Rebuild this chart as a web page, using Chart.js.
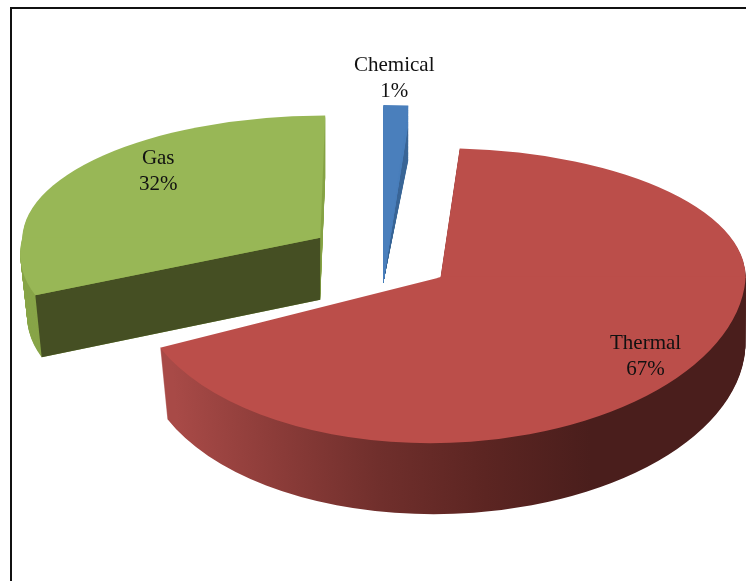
<!DOCTYPE html>
<html>
<head>
<meta charset="utf-8">
<style>
  html, body { margin: 0; background: #fff; overflow: hidden; }
  #frame { position: absolute; left: 10px; top: 7px; width: 800px; height: 700px; border: 2px solid #111; }
  #pie { position: absolute; left: 0; top: 0; filter: blur(0.6px); }
</style>
<script src="https://cdn.jsdelivr.net/npm/chart.js@4"></script>
</head>
<body>
<div id="frame"></div>
<canvas id="pie" width="746" height="581"></canvas>
<script>
// chart data
const categories = ['Chemical', 'Thermal', 'Gas'];
const shares = [1, 67, 32];
const shareLabels = ['1%', '67%', '32%'];

// colours
const topColors = ['#4a7fbc', '#bb4e4a', '#98b756'];
const rimColors = ['#3c6798', null, '#88a548'];
const cutColor = '#454f23';
const thermalWall = ['#a84a47', '#8c3c39', '#702f2c', '#5c2522', '#4a1e1c', '#4a1e1c'];

// how each slice is tilted to look 3D, same order as categories
const explode = [72, 72, 72];
const tilt = 0.5;
const views = [
  { sx: 1.33, upper: 0.593, lower: 0.593, skewU: 0, skewL: 0, depth: 0, shiftY: 62, under: 0.41, faceFrom: 0.527, shrink: 0, lean: 0 },
  { sx: 1.017, upper: 0.43, lower: 0.553, skewU: 0, skewL: -0.035, depth: 71, shiftY: 0, shrink: 0.00018, lean: 0.05 },
  { sx: 0.993, upper: 0.407, lower: 0.45, skewU: -0.0167, skewL: -0.12, depth: 62, shiftY: 0, shrink: 0.00038, lean: 0 }
];
const labelOffsets = [[11, -218], [205, 66], [-162, -79]];
const lineGap = 26;

function apexOf(el, i) {
  const mid = (el.startAngle + el.endAngle) / 2;
  return {
    x: el.x + Math.cos(mid) * explode[i],
    y: el.y + Math.sin(mid) * explode[i] * tilt + views[i].shiftY
  };
}

// runs draw() twice, once for the half behind the centre and once for the half in front
function eachHalf(ctx, el, view, apex, d, upperScale, draw) {
  const narrow = 1 - view.shrink * d;
  [[upperScale, view.skewU, -1000, apex.y + d + 0.5], [view.lower, view.skewL, apex.y + d - 0.5, 2000]].forEach(h => {
    ctx.save();
    ctx.beginPath();
    ctx.rect(-100, h[2], 1000, h[3] - h[2]);
    ctx.clip();
    ctx.translate(apex.x + view.lean * d, apex.y + d);
    ctx.transform(view.sx * narrow, 0, h[1], h[0], 0, 0);
    ctx.translate(-el.x, -el.y);
    draw();
    ctx.restore();
  });
}

function slicePath(ctx, el) {
  ctx.beginPath();
  ctx.moveTo(el.x, el.y);
  ctx.arc(el.x, el.y, el.outerRadius, el.startAngle, el.endAngle);
  ctx.closePath();
}

function wallFill(ctx, el, i) {
  if (i !== 1) return rimColors[i];
  const g = ctx.createLinearGradient(el.x - 260, 0, el.x + 260, 0);
  thermalWall.forEach((c, k) => g.addColorStop(k / (thermalWall.length - 1), c));
  return g;
}

function drawSlice(ctx, el, i) {
  const view = views[i];
  const apex = apexOf(el, i);

  // side wall, stacked one pixel at a time
  for (let d = view.depth; d >= 1; d--) {
    eachHalf(ctx, el, view, apex, d, view.upper, () => {
      slicePath(ctx, el);
      ctx.fillStyle = wallFill(ctx, el, i);
      ctx.fill();
    });
  }

  // the flat cut face of the gas slice
  if (i === 2) {
    const r = el.outerRadius;
    const dx = Math.cos(el.startAngle) * r;
    const dy = Math.sin(el.startAngle) * r;
    const narrow = 1 - view.shrink * view.depth;
    const left = apex.x + view.sx * dx + view.skewL * dy;
    const leftLow = apex.x + view.sx * narrow * dx + view.skewL * dy;
    const edgeY = apex.y + view.lower * dy;
    ctx.beginPath();
    ctx.moveTo(apex.x, apex.y);
    ctx.lineTo(left, edgeY);
    ctx.lineTo(leftLow, edgeY + view.depth);
    ctx.lineTo(apex.x, apex.y + view.depth);
    ctx.closePath();
    ctx.fillStyle = cutColor;
    ctx.fill();
  }

  // chemical slice: swept so the outer edge stays straight down, dark part first
  if (view.under) {
    for (let s = view.under; s < view.upper; s += 0.004) {
      eachHalf(ctx, el, view, apex, 0, s, () => {
        slicePath(ctx, el);
        ctx.fillStyle = s < view.faceFrom ? rimColors[i] : topColors[i];
        ctx.fill();
      });
    }
  }

  eachHalf(ctx, el, view, apex, 0, view.upper, () => {
    slicePath(ctx, el);
    ctx.fillStyle = topColors[i];
    ctx.fill();
  });
}

const tiltedPie = {
  id: 'tiltedPie',
  beforeDatasetsDraw(chart) {
    const ctx = chart.ctx;
    const arcs = chart.getDatasetMeta(0).data;
    [2, 0, 1].forEach(i => drawSlice(ctx, arcs[i], i));

    ctx.fillStyle = '#111';
    ctx.font = '21px "Liberation Serif"';
    ctx.textAlign = 'center';
    ctx.textBaseline = 'middle';
    arcs.forEach((el, i) => {
      const apex = apexOf(el, i);
      const x = apex.x + labelOffsets[i][0];
      const y = apex.y + labelOffsets[i][1];
      ctx.fillText(categories[i], x, y);
      ctx.fillText(shareLabels[i], x, y + lineGap);
    });
    return false;
  }
};

new Chart(document.getElementById('pie'), {
  type: 'pie',
  data: {
    labels: categories,
    datasets: [{
      data: shares,
      backgroundColor: topColors,
      borderWidth: 0
    }]
  },
  options: {
    responsive: false,
    animation: false,
    radius: 300,
    layout: { padding: { left: 16, bottom: 67 } },
    plugins: { legend: { display: false }, tooltip: { enabled: false } }
  },
  plugins: [tiltedPie]
});
</script>
</body>
</html>
